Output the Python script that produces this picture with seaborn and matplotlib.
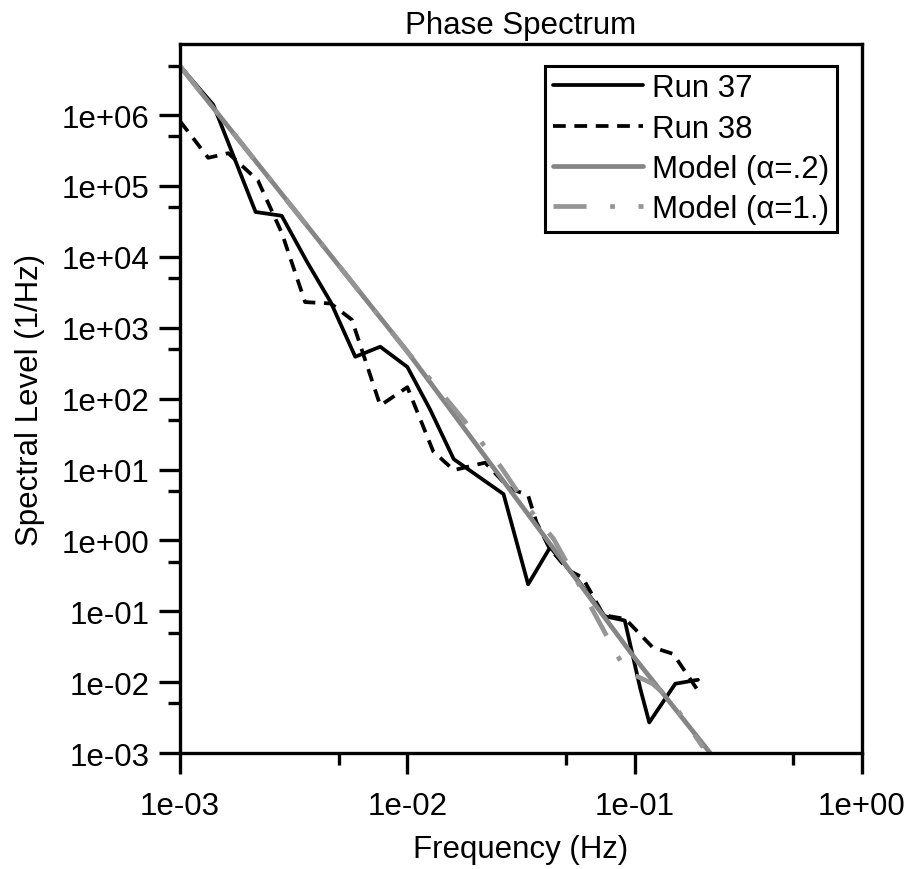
import numpy as np
import pandas as pd
import matplotlib
matplotlib.use('Agg')
import matplotlib.pyplot as plt
import matplotlib.ticker as mticker
import seaborn as sns

# values
run37_f = [1.0e-3, 1.4e-3, 2.15e-3, 2.8e-3, 3.62e-3, 4.6e-3, 5.9e-3, 7.6e-3, 1.0e-2, 1.26e-2,
           1.6e-2, 2.65e-2, 3.4e-2, 4.25e-2, 5.6e-2, 7.4e-2, 9.05e-2, 0.106, 0.116, 0.151, 0.19]
run37_s = [4.9e6, 1.4e6, 4.3e4, 3.8e4, 8.5e3, 2.3e3, 3.9e2, 5.4e2, 2.8e2, 70,
           14, 4.5, 0.24, 0.8, 0.28, 0.085, 0.074, 0.008, 0.0027, 0.0095, 0.0108]

run38_f = [1.0e-3, 1.33e-3, 1.63e-3, 2.2e-3, 2.8e-3, 3.55e-3, 4.6e-3, 5.7e-3, 7.6e-3, 1.0e-2,
           1.3e-2, 1.6e-2, 2.2e-2, 2.8e-2, 3.4e-2, 3.7e-2, 4.2e-2, 5.1e-2, 5.9e-2, 7.3e-2,
           9.1e-2, 0.12, 0.148, 0.19]
run38_s = [8.2e5, 2.5e5, 2.9e5, 1.2e5, 2.2e4, 2.3e3, 2.2e3, 1.3e3, 80, 145,
           18, 9.8, 12.5, 5.5, 4.3, 1.8, 0.8, 0.38, 0.3, 0.088,
           0.078, 0.031, 0.025, 0.0076]

model02_f = [1.0e-3, 1.0e-2, 1.0e-1, 0.215]
model02_s = [4.9e6, 4.6e2, 2.2e-2, 1.0e-3]

model10_f = [1.0e-3, 1.0e-2, 1.9e-2, 2.6e-2, 3.4e-2, 4.4e-2, 5.5e-2, 7.4e-2, 8.3e-2, 9.5e-2,
             0.103, 0.12, 0.145, 0.2]
model10_s = [4.9e6, 4.6e2, 38, 10.5, 2.9, 1.05, 0.29, 0.05, 0.025, 0.0125,
             0.012, 0.0095, 0.0055, 0.0012]

sns.set_style('ticks')
plt.rcParams['font.family'] = ['Liberation Sans', 'DejaVu Sans']
plt.rcParams['text.color'] = 'black'
plt.rcParams['axes.labelcolor'] = 'black'
plt.rcParams['xtick.color'] = 'black'
plt.rcParams['ytick.color'] = 'black'
fs = 22.5

fig, ax = plt.subplots(figsize=(9.14, 8.70), dpi=100)
fig.subplots_adjust(left=0.197, right=0.943, top=0.948, bottom=0.1333)

sns.lineplot(x=run37_f, y=run37_s, ax=ax, color='black', lw=2.7, label='Run 37',
             errorbar=None, estimator=None)
sns.lineplot(x=run38_f, y=run38_s, ax=ax, color='black', lw=2.7, label='Run 38',
             linestyle=(0, (3.4, 2.3)), errorbar=None, estimator=None)
sns.lineplot(x=model02_f, y=model02_s, ax=ax, color='#858585', lw=3.4,
             label='Model (\u03b1=.2)', errorbar=None, estimator=None)
sns.lineplot(x=model10_f, y=model10_s, ax=ax, color='#959595', lw=3.4,
             linestyle=(0, (7, 5, 1, 5)), label='Model (\u03b1=1.)',
             errorbar=None, estimator=None)

ax.set_xscale('log')
ax.set_yscale('log')
ax.set_xlim(1e-3, 1e0)
ax.set_ylim(1e-3, 1e7)

ax.set_xticks([1e-3, 1e-2, 1e-1, 1e0])
ax.set_yticks([10.0 ** k for k in range(-3, 7)])
ax.xaxis.set_minor_locator(mticker.FixedLocator([5e-3, 5e-2, 5e-1]))
ax.yaxis.set_minor_locator(mticker.FixedLocator([5 * 10.0 ** k for k in range(-3, 7)]))
fmt = mticker.FuncFormatter(lambda v, p: f'{v:.0e}')
ax.xaxis.set_major_formatter(fmt)
ax.yaxis.set_major_formatter(fmt)
ax.xaxis.set_minor_formatter(mticker.NullFormatter())
ax.yaxis.set_minor_formatter(mticker.NullFormatter())

ax.tick_params(which='major', length=15, width=2.4, labelsize=fs, color='black',
               labelcolor='black')
ax.tick_params(which='minor', length=8.5, width=2.4, color='black')
ax.tick_params(axis='y', which='major', pad=7)
ax.tick_params(axis='x', which='major', pad=12)
for sp in ax.spines.values():
    sp.set_linewidth(2.4)
    sp.set_color('black')
    sp.set_visible(True)

ax.set_title('Phase Spectrum', fontsize=fs, pad=8)
ax.set_xlabel('Frequency (Hz)', fontsize=fs, labelpad=10)
ax.set_ylabel('Spectral Level (1/Hz)', fontsize=fs)
ax.yaxis.set_label_coords(-0.198, 0.5)

leg = ax.legend(loc='upper right', bbox_to_anchor=(0.963, 0.970), borderaxespad=0,
                fontsize=fs, frameon=True, fancybox=False, framealpha=1,
                edgecolor='black', handlelength=2.9, handletextpad=0.27,
                borderpad=0.25, labelspacing=0.33)
leg.get_frame().set_linewidth(2.2)

fig.savefig('out.png', dpi=100)
